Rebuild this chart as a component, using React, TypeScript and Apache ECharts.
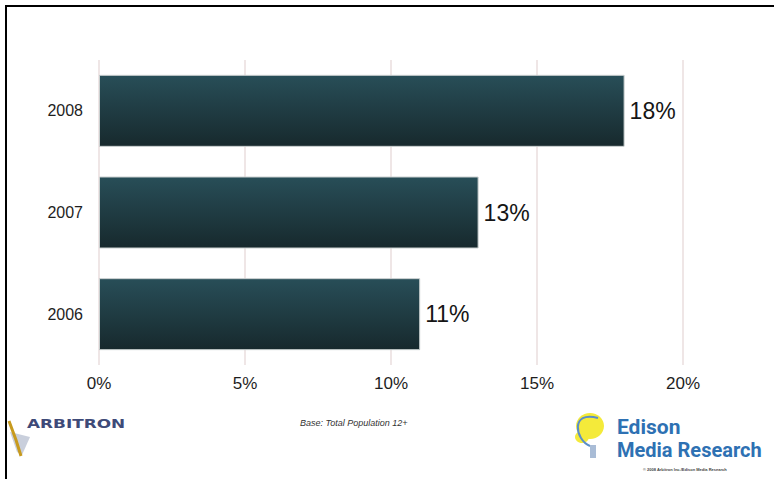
import React, { useEffect, useRef } from "react";
import * as echarts from "echarts";

const categories = ["2006", "2007", "2008"];
const values = [11, 13, 18];
const tickValues = [0, 5, 10, 15, 20];

export default function App() {
  const ref = useRef<HTMLDivElement>(null);
  useEffect(() => {
    if (!ref.current) return;
    const chart = echarts.init(ref.current, undefined, { renderer: "svg" });
    chart.setOption({
      animation: false,
      backgroundColor: "#ffffff",
      grid: { left: 99, right: 91, top: 60, height: 305, containLabel: false },
      xAxis: {
        type: "value",
        min: tickValues[0],
        max: tickValues[tickValues.length - 1],
        interval: 5,
        axisLine: { show: false },
        axisTick: { show: false },
        splitLine: { show: true, lineStyle: { color: "#eadede", width: 1.5 } },
        axisLabel: {
          formatter: "{value}%",
          fontFamily: "Liberation Sans, Arial, sans-serif",
          fontSize: 17,
          color: "#1e1e1e",
          margin: 10,
        },
      },
      yAxis: {
        type: "category",
        data: categories,
        axisLine: { show: false },
        axisTick: { show: false },
        splitLine: { show: false },
        axisLabel: {
          fontFamily: "Liberation Sans, Arial, sans-serif",
          fontSize: 16,
          color: "#1e1e1e",
          margin: 16,
        },
      },
      series: [
        {
          type: "bar",
          data: values,
          barWidth: 72,
          itemStyle: {
            color: new echarts.graphic.LinearGradient(0, 0, 0, 1, [
              { offset: 0, color: "#284e58" },
              { offset: 1, color: "#17292d" },
            ]),
            borderColor: "#c9cfcf",
            borderWidth: 1,
          },
          label: {
            show: true,
            position: "right",
            distance: 5,
            formatter: "{c}%",
            fontFamily: "Liberation Sans, Arial, sans-serif",
            fontSize: 23,
            color: "#151515",
          },
        },
      ],
      graphic: [
        { type: "line", shape: { x1: 6, y1: 6, x2: 774, y2: 6 }, style: { stroke: "#000", lineWidth: 2 } },
        { type: "line", shape: { x1: 6, y1: 5, x2: 6, y2: 479 }, style: { stroke: "#000", lineWidth: 2 } },
        // Arbitron mark
        { type: "polygon", shape: { points: [[10, 432], [30, 437], [22, 455], [17, 452]] }, style: { fill: "#c9cfdc" } },
        { type: "polyline", shape: { points: [[9, 421], [16, 440], [21, 456]] }, style: { stroke: "#c79a1e", lineWidth: 3, fill: "none" } },
        {
          type: "text",
          x: 27,
          y: 417,
          scaleX: 1.3,
          style: {
            text: "ARBITRON",
            font: "bold 13px 'DejaVu Sans', sans-serif",
            fill: "#3e4a78",
          },
        },
        {
          type: "text",
          left: 300,
          top: 418,
          style: {
            text: "Base: Total Population 12+",
            font: "italic 9px 'Liberation Sans', Arial, sans-serif",
            fill: "#333",
          },
        },
        // Edison logo
        { type: "ellipse", shape: { cx: 590, cy: 426, rx: 14, ry: 13 }, style: { fill: "#f4ea3a" } },
        { type: "ellipse", shape: { cx: 582, cy: 437, rx: 7, ry: 6 }, style: { fill: "#f4ea3a" } },
        {
          type: "bezierCurve",
          shape: { x1: 598, y1: 418, x2: 590, y2: 446, cpx1: 570, cpy1: 410, cpx2: 575, cpy2: 440 },
          style: { stroke: "#5b8ec8", lineWidth: 2, fill: "none" },
        },
        { type: "rect", shape: { x: 590, y: 445, width: 6, height: 13 }, style: { fill: "#a9bcd6" } },
        {
          type: "text",
          left: 617,
          top: 416,
          style: { text: "Edison", font: "bold 21px Roboto, 'Liberation Sans', sans-serif", fill: "#2e71b3" },
        },
        {
          type: "text",
          left: 617,
          top: 440,
          style: { text: "Media Research", font: "bold 20px Roboto, 'Liberation Sans', sans-serif", fill: "#2e71b3" },
        },
        {
          type: "text",
          left: 643,
          top: 467,
          style: { text: "© 2008 Arbitron Inc./Edison Media Research", font: "bold 4px 'Liberation Sans', Arial, sans-serif", fill: "#444" },
        },
      ],
    });
    return () => chart.dispose();
  }, []);
  return (
    <div
      ref={ref}
      style={{ position: "fixed", left: 0, top: 0, width: 774, height: 479 }}
    />
  );
}
